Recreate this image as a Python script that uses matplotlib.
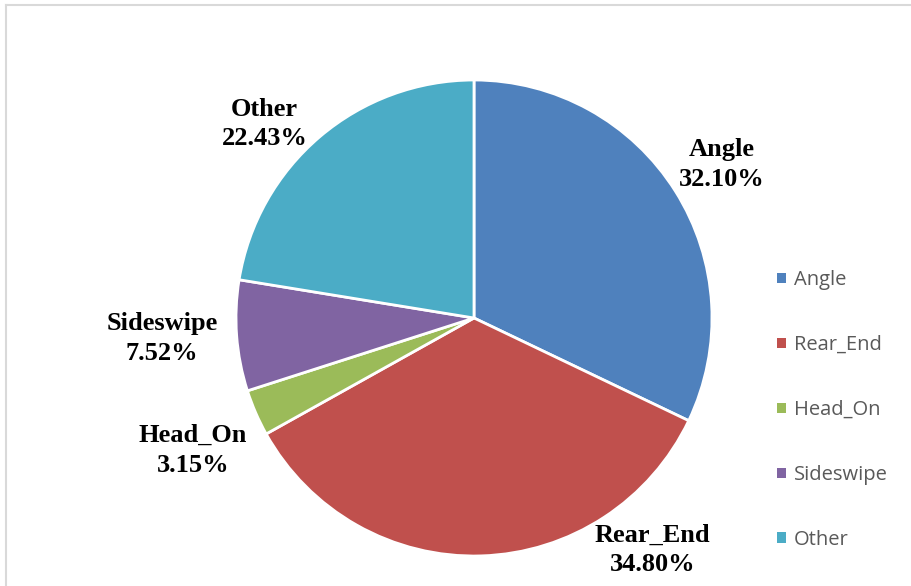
import matplotlib.pyplot as plt
from matplotlib.patches import Patch
from matplotlib.lines import Line2D

# crash type shares (percent)
categories = ["Angle", "Rear_End", "Head_On", "Sideswipe", "Other"]
shares = [32.10, 34.80, 3.15, 7.52, 22.43]
colors = ["#4F81BD", "#C0504D", "#9BBB59", "#8064A2", "#4BACC6"]

# label spots in pie-radius units
label_xy = [(1.04, 0.645), (0.75, -0.975), (-1.18, -0.555), (-1.31, -0.085), (-0.88, 0.815)]

W, H = 912, 586
cx, cy, R = 474, 318, 238

fig = plt.figure(figsize=(W / 100, H / 100), dpi=100)
ax = fig.add_axes([0, 0, 1, 1])

ax.pie(shares, colors=colors, startangle=90, counterclock=False,
       wedgeprops=dict(edgecolor="white", linewidth=2))

ax.set_xlim(-cx / R, (W - cx) / R)
ax.set_ylim(-(H - cy) / R, cy / R)
ax.set_aspect("auto")
ax.axis("off")

for name, val, (x, y) in zip(categories, shares, label_xy):
    ax.text(x, y, f"{name}\n{val:.2f}%", ha="center", va="center",
            fontsize=19, fontweight="bold", family="Liberation Serif",
            linespacing=1.38, color="black")

handles = [Patch(facecolor=c, edgecolor="none") for c in colors]
leg = fig.legend(handles, categories, loc="center left",
                 bbox_to_anchor=(759 / W, 1 - 410 / H),
                 frameon=False, handlelength=0.42, handleheight=0.42,
                 handletextpad=0.4, labelspacing=2.23,
                 prop=dict(family="Open Sans", size=14.5))
for t in leg.get_texts():
    t.set_color("#595959")

# thin grey chart border (top and left visible)
fig.add_artist(Line2D([6 / W, 1], [1 - 5 / H, 1 - 5 / H], color="#d9d9d9", lw=1.5))
fig.add_artist(Line2D([6.5 / W, 6.5 / W], [0, 1 - 5 / H], color="#d9d9d9", lw=1.5))

fig.savefig("out.png", dpi=100)
